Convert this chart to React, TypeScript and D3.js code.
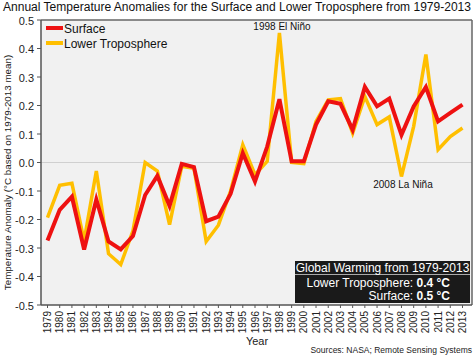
import React from "react";
import * as d3 from "d3";

const years = d3.range(1979, 2014).map(String);
const surface = [
  -0.274, -0.166, -0.12, -0.305, -0.13, -0.277, -0.305, -0.258, -0.114, -0.047,
  -0.152, -0.005, -0.016, -0.206, -0.19, -0.11, 0.033, -0.067, 0.056, 0.222,
  0.004, 0.004, 0.133, 0.215, 0.206, 0.115, 0.265, 0.197, 0.224, 0.097,
  0.197, 0.265, 0.144, 0.174, 0.203,
];
const lowerTrop = [
  -0.193, -0.08, -0.073, -0.275, -0.03, -0.32, -0.358, -0.24, 0.0, -0.03,
  -0.218, -0.013, -0.02, -0.277, -0.22, -0.1, 0.062, -0.043, 0.004, 0.455,
  0.0, -0.004, 0.144, 0.22, 0.224, 0.103, 0.232, 0.133, 0.16, -0.049,
  0.127, 0.379, 0.045, 0.091, 0.121,
];
const yTicks = [0.5, 0.4, 0.3, 0.2, 0.1, 0.0, -0.1, -0.2, -0.3, -0.4, -0.5];

const W = 474, H = 356;
const L = 41, R = 472, T = 20, B = 305;
const FONT = "Liberation Sans, Arial, sans-serif";

export default function App() {
  const x = d3.scalePoint<string>().domain(years).range([47.5, 462.5]);
  const y = d3.scaleLinear().domain([-0.5, 0.5]).range([B, T]);
  const line = (vals: number[]) =>
    d3.line<number>().x((_, i) => x(years[i])!).y((v) => y(v))(vals)!;

  return (
    <svg width={W} height={H} style={{ position: "absolute", left: 0, top: 0, background: "#fff" }} fontFamily={FONT}>
      <text x={237} y={11} textAnchor="middle" fontSize={12} fill="#111" textLength={468} lengthAdjust="spacingAndGlyphs">
        Annual Temperature Anomalies for the Surface and Lower Troposphere from 1979-2013
      </text>
      <rect x={L} y={T} width={R - L} height={B - T} fill="#f1f1f1" />
      <line x1={L} x2={R} y1={y(0)} y2={y(0)} stroke="#d0d0d0" strokeWidth={1} />
      {/* borders */}
      <line x1={L} x2={R} y1={T} y2={T} stroke="#666" strokeWidth={1.5} />
      <line x1={R} x2={R} y1={T} y2={B} stroke="#666" strokeWidth={1.5} />
      <line x1={L} x2={L} y1={T} y2={B} stroke="#555" strokeWidth={1.5} />
      <line x1={L} x2={R} y1={B} y2={B} stroke="#555" strokeWidth={1.5} />
      {yTicks.map((t) => (
        <g key={t}>
          <line x1={L - 4} x2={L} y1={y(t)} y2={y(t)} stroke="#555" />
          <text x={L - 7} y={y(t) + 4.5} textAnchor="end" fontSize={11} fill="#222">
            {t.toFixed(1)}
          </text>
        </g>
      ))}
      {years.map((yr) => (
        <g key={yr}>
          <line x1={x(yr)!} x2={x(yr)!} y1={B} y2={B + 3} stroke="#555" />
          <text
            transform={`translate(${x(yr)! + 3.5},${B + 6}) rotate(-90)`}
            textAnchor="end"
            fontSize={10}
            fill="#222"
          >
            {yr}
          </text>
        </g>
      ))}
      <text x={257} y={345} textAnchor="middle" fontSize={11} fill="#222">Year</text>
      <text transform={`translate(11,${(T + B) / 2 + 10}) rotate(-90)`} textAnchor="middle" fontSize={9.8} fill="#222">
        Temperature Anomaly (°C based on 1979-2013 mean)
      </text>
      <text x={472} y={353} textAnchor="end" fontSize={8.5} fill="#222">
        Sources: NASA; Remote Sensing Systems
      </text>

      <path d={line(lowerTrop)} fill="none" stroke="#ffbf00" strokeWidth={3.5} strokeLinejoin="miter" />
      <path d={line(surface)} fill="none" stroke="#ee1111" strokeWidth={4} strokeLinejoin="miter" />

      {/* legend */}
      <line x1={46} x2={63} y1={28} y2={28} stroke="#ee1111" strokeWidth={4} />
      <text x={64} y={32.5} fontSize={12} fill="#111">Surface</text>
      <line x1={46} x2={63} y1={43} y2={43} stroke="#ffbf00" strokeWidth={4} />
      <text x={64} y={47.5} fontSize={12} fill="#111">Lower Troposphere</text>

      <text x={282} y={30} textAnchor="middle" fontSize={10} fill="#111">1998 El Niño</text>
      <text x={403} y={188} textAnchor="middle" fontSize={10} fill="#111">2008 La Niña</text>

      {/* info box */}
      <rect x={295} y={261} width={175} height={42} fill="#1a1a1a" />
      <line x1={295} x2={470} y1={274.5} y2={274.5} stroke="#aaa" strokeWidth={1} />
      <text x={382.5} y={272} textAnchor="middle" fontSize={12} fill="#fff">Global Warming from 1979-2013</text>
      <text x={450} y={287} textAnchor="end" fontSize={12} fill="#fff">
        Lower Troposphere: <tspan fontWeight="bold">0.4 °C</tspan>
      </text>
      <text x={450} y={300} textAnchor="end" fontSize={12} fill="#fff">
        Surface: <tspan fontWeight="bold">0.5 °C</tspan>
      </text>
    </svg>
  );
}
